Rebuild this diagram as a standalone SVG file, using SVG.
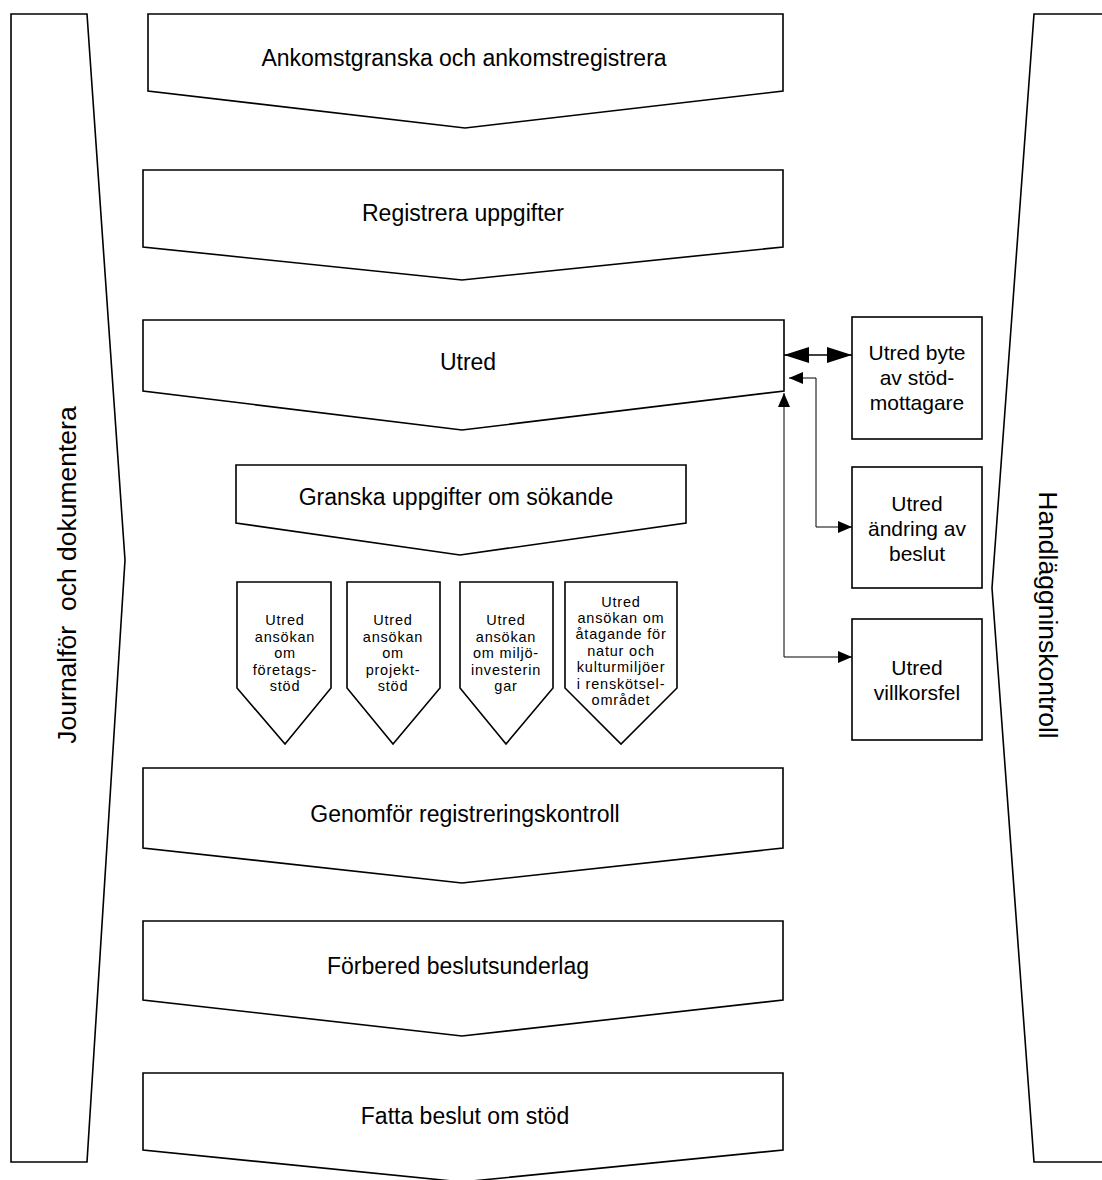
<svg xmlns="http://www.w3.org/2000/svg" width="1102" height="1180" viewBox="0 0 1102 1180">
<style>
.shape{fill:#fff;stroke:#000;stroke-width:1.6;stroke-linejoin:miter}
.conn{fill:none;stroke:#000;stroke-width:1}
.t{font-family:"Liberation Sans",Arial,sans-serif;fill:#000;text-anchor:middle;dominant-baseline:central}
.big{font-size:23px}
.box{font-size:21px}
.small{font-size:14.5px;letter-spacing:0.8px}
.side{font-size:26.5px;white-space:pre}
</style>
<defs>
<marker id="ah" markerUnits="userSpaceOnUse" markerWidth="26" markerHeight="18" refX="25" refY="8" orient="auto-start-reverse">
<path d="M0,0 L25,8 L0,16 Z" fill="#000"/>
</marker>
<marker id="as" markerUnits="userSpaceOnUse" markerWidth="16" markerHeight="14" refX="14" refY="6" orient="auto-start-reverse">
<path d="M0,0 L14,6 L0,12 Z" fill="#000"/>
</marker>
</defs>
<rect width="1102" height="1180" fill="#fff"/>

<g id="journalfor">
<polygon class="shape" points="11,14 87,14 125,560 87,1162 11,1162"/>
<text class="t side" transform="translate(67,575) rotate(-90)">Journalför  och dokumentera</text>
</g>

<g id="handlaggning">
<polygon class="shape" points="1110,14 1034,14 992,588 1034,1162 1110,1162"/>
<text class="t side" transform="translate(1048,615) rotate(90)">Handläggninskontroll</text>
</g>

<g id="ankomst">
<polygon class="shape" points="148,14 783,14 783,91 465,128 148,91"/>
<text class="t big" x="464" y="58">Ankomstgranska och ankomstregistrera</text>
</g>

<g id="registrera">
<polygon class="shape" points="143,170 783,170 783,247 462,280 143,247"/>
<text class="t big" x="463" y="213">Registrera uppgifter</text>
</g>

<g id="utred">
<polygon class="shape" points="143,320 784,320 784,391 462,430 143,391"/>
<text class="t big" x="468" y="362">Utred</text>
</g>

<g id="granska">
<polygon class="shape" points="236,465 686,465 686,523 460,555 236,523"/>
<text class="t big" x="456" y="497">Granska uppgifter om sökande</text>
</g>

<g id="foretagsstod">
<polygon class="shape" points="237,582 331,582 331,688 285,744 237,688"/>
<text class="t small" x="285"><tspan x="285" y="620">Utred</tspan><tspan x="285" y="637">ansökan</tspan><tspan x="285" y="653">om</tspan><tspan x="285" y="670">företags-</tspan><tspan x="285" y="686">stöd</tspan></text>
</g>

<g id="projektstod">
<polygon class="shape" points="347,582 440,582 440,688 393,744 347,688"/>
<text class="t small" x="393"><tspan x="393" y="620">Utred</tspan><tspan x="393" y="637">ansökan</tspan><tspan x="393" y="653">om</tspan><tspan x="393" y="670">projekt-</tspan><tspan x="393" y="686">stöd</tspan></text>
</g>

<g id="miljoinvesteringar">
<polygon class="shape" points="460,582 553,582 553,688 506,744 460,688"/>
<text class="t small" x="506"><tspan x="506" y="620">Utred</tspan><tspan x="506" y="637">ansökan</tspan><tspan x="506" y="653">om miljö-</tspan><tspan x="506" y="670">investerin</tspan><tspan x="506" y="686">gar</tspan></text>
</g>

<g id="atagande">
<polygon class="shape" points="565,582 677,582 677,688 621,744 565,688"/>
<text class="t small" x="621"><tspan x="621" y="602">Utred</tspan><tspan x="621" y="618">ansökan om</tspan><tspan x="621" y="634">åtagande för</tspan><tspan x="621" y="651">natur och</tspan><tspan x="621" y="667">kulturmiljöer</tspan><tspan x="621" y="684">i renskötsel-</tspan><tspan x="621" y="700">området</tspan></text>
</g>

<g id="registreringskontroll">
<polygon class="shape" points="143,768 783,768 783,848 462,883 143,848"/>
<text class="t big" x="465" y="814">Genomför registreringskontroll</text>
</g>

<g id="beslutsunderlag">
<polygon class="shape" points="143,921 783,921 783,1000 462,1036 143,1000"/>
<text class="t big" x="458" y="966">Förbered beslutsunderlag</text>
</g>

<g id="fattabeslut">
<polygon class="shape" points="143,1073 783,1073 783,1150 462,1182 143,1150"/>
<text class="t big" x="465" y="1116">Fatta beslut om stöd</text>
</g>

<g id="bytestodmottagare">
<rect class="shape" x="852" y="317" width="130" height="122"/>
<text class="t box" x="917"><tspan x="917" y="352">Utred byte</tspan><tspan x="917" y="377">av stöd-</tspan><tspan x="917" y="402">mottagare</tspan></text>
</g>

<g id="andringbeslut">
<rect class="shape" x="852" y="467" width="130" height="121"/>
<text class="t box" x="917"><tspan x="917" y="503">Utred</tspan><tspan x="917" y="528">ändring av</tspan><tspan x="917" y="553">beslut</tspan></text>
</g>

<g id="villkorsfel">
<rect class="shape" x="852" y="619" width="130" height="121"/>
<text class="t box" x="917"><tspan x="917" y="667">Utred</tspan><tspan x="917" y="692">villkorsfel</tspan></text>
</g>

<g id="connectors">
<path class="conn" style="stroke-width:1.5" d="M784,355 H852" marker-start="url(#ah)" marker-end="url(#ah)"/>
<path class="conn" d="M789,378 H816 V527 H852" marker-start="url(#as)" marker-end="url(#as)"/>
<path class="conn" d="M784,393 V657 H852" marker-start="url(#as)" marker-end="url(#as)"/>
</g>
</svg>
